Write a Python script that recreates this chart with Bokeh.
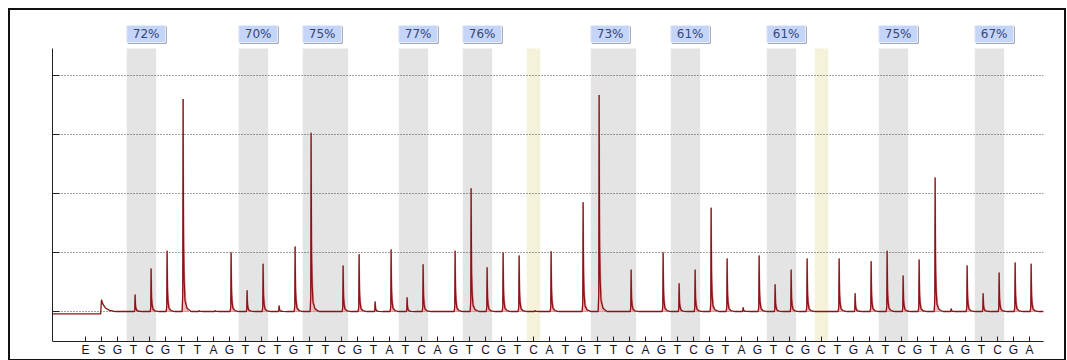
from bokeh.plotting import figure
from bokeh.models import FixedTicker, Range1d, ColumnDataSource
from bokeh.embed import file_html
from bokeh.resources import INLINE
from bokeh.core.properties import value

# ---- data ----
dispensation = list("ESGTCGTTAGTCTGTTCGTATCAGTCGTCATGTTCAGTCGTAGTCGCTGATCGTAGTCGA")
peak_heights = [0.0, 0.2, 0.0, 0.29, 0.73, 1.03, 3.6, 0.02, 0.02, 1.0,
                0.36, 0.81, 0.1, 1.1, 3.03, 0.0, 0.78, 0.97, 0.17, 1.05,
                0.24, 0.8, 0.0, 1.03, 2.09, 0.75, 1.0, 0.95, 0.02, 1.02,
                0.0, 1.85, 3.67, 0.0, 0.71, 0.0, 1.0, 0.48, 0.71, 1.76,
                0.9, 0.07, 0.95, 0.46, 0.71, 0.9, 0.0, 0.9, 0.31, 0.85,
                1.03, 0.61, 0.88, 2.27, 0.05, 0.78, 0.31, 0.66, 0.83, 0.81]
pre_baseline = -0.04
cpg_first = [3, 10, 14, 20, 24, 32, 37, 43, 50, 56]
cpg_last = [4, 11, 16, 21, 25, 34, 38, 44, 51, 57]
cpg_labels = ["72%", "70%", "75%", "77%", "76%", "73%", "61%", "61%", "75%", "67%"]
control_pos = [28, 46]
y_ticks = [0, 1, 2, 3, 4]

# ---- figure ----
X0, X1 = -2.06, 59.875
Y0, Y1 = -0.508, 4.966
YTOP = 4.458
DX, DY = 1 / 16.0, 1 / 59.0

p = figure(frame_width=991, frame_height=323,
           x_range=Range1d(X0, X1), y_range=Range1d(Y0, Y1),
           output_backend="svg", toolbar_location=None,
           min_border_left=42, min_border_right=21, min_border_top=8, min_border_bottom=15,
           background_fill_color="white", border_fill_color="white",
           outline_line_color=None,
           styles={"border": "2px solid #111111", "margin-left": "8px", "margin-top": "8px"})

# bands
hl = 0.42
gray_src = ColumnDataSource(dict(left=[a - hl for a in cpg_first],
                                 right=[b + hl for b in cpg_last],
                                 bottom=[Y0] * len(cpg_first), top=[YTOP] * len(cpg_first)))
p.quad(left="left", right="right", bottom="bottom", top="top", source=gray_src,
       fill_color="#e4e4e4", line_color=None, level="image")
yel_src = ColumnDataSource(dict(left=[c - hl for c in control_pos],
                                right=[c + hl for c in control_pos],
                                bottom=[Y0] * len(control_pos), top=[YTOP] * len(control_pos)))
p.quad(left="left", right="right", bottom="bottom", top="top", source=yel_src,
       fill_color="#f4f2da", line_color=None, level="image")

# labels
lab_left = [a - hl for a in cpg_first]
lab_w = 2.42
lab_top, lab_bot = 4.847, 4.559
p.quad(left=[l + DX for l in lab_left], right=[l + lab_w + DX for l in lab_left],
       bottom=[lab_bot - DY] * len(lab_left), top=[lab_top - DY] * len(lab_left),
       fill_color="#4c5466", line_color=None)
p.quad(left=lab_left, right=[l + lab_w for l in lab_left],
       bottom=[lab_bot] * len(lab_left), top=[lab_top] * len(lab_left),
       fill_color="#c4d5f7", line_color="#e8eefc", line_width=1)
p.text(x=[l + lab_w / 2 for l in lab_left], y=[(lab_top + lab_bot) / 2] * len(lab_left),
       text=cpg_labels, text_font=value("DejaVu Sans"), text_font_size="12px",
       text_color="#34457a", text_align="center", text_baseline="middle")

# pink peak bodies
pxs, pys = [], []
for i, h in enumerate(peak_heights):
    if h <= 0.03 or i < 2:
        continue
    c = i + 0.1
    pxs.append([c - 0.06, c - 0.01, c + 0.02, c + 0.05, c + 0.09, c + 0.15, c + 0.28])
    pys.append([0, 0.1 * h, h, 0.4 * h, 0.2 * h, 0.07 * h, 0])
p.patches(xs=pxs, ys=pys, fill_color="#f2bcbc", line_color="#de9a9a", line_width=1)

# dark trace
tx = [X0, 0.95]
ty = [pre_baseline, pre_baseline]
h1 = peak_heights[1]
tx += [1.0, 1.1, 1.25, 1.5, 1.9]
ty += [h1, 0.6 * h1, 0.3 * h1, 0.1 * h1, 0.0]
for i in range(2, len(peak_heights)):
    h = peak_heights[i]
    if h <= 0:
        continue
    c = i + 0.1
    tx += [c - 0.06, c - 0.02, c, c + 0.03, c + 0.07, c + 0.12, c + 0.25, c + 0.5]
    ty += [0.0, 0.08 * h, h, 0.3 * h, 0.14 * h, 0.05 * h, 0.015 * h, 0.0]
tx.append(X1)
ty.append(0.0)
p.line(tx, ty, line_color="#8a1414", line_width=1.3)

# axes
p.xgrid.visible = False
p.ygrid.ticker = FixedTicker(ticks=y_ticks)
p.ygrid.grid_line_color = "#444444"
p.ygrid.grid_line_dash = "1 2"
p.ygrid.grid_line_width = 1

p.yaxis.ticker = FixedTicker(ticks=y_ticks)
p.yaxis.bounds = (Y0, YTOP)
p.yaxis.major_tick_in = 7
p.yaxis.major_tick_out = 0
p.yaxis.minor_tick_line_color = None
p.yaxis.major_label_overrides = {t: "" for t in y_ticks}
p.yaxis.major_label_standoff = 0
p.yaxis.axis_line_color = "#222222"
p.yaxis.major_tick_line_color = "#222222"

p.xaxis.ticker = FixedTicker(ticks=list(range(len(dispensation))))
p.xaxis.major_label_overrides = {i: s for i, s in enumerate(dispensation)}
p.xaxis.major_tick_in = 5
p.xaxis.major_tick_out = 0
p.xaxis.minor_tick_line_color = None
p.xaxis.major_label_standoff = 1
p.xaxis.major_label_text_font = "Liberation Sans"
p.xaxis.major_label_text_font_size = "12px"
p.xaxis.major_label_text_color = "#111111"
p.xaxis.axis_line_color = "#222222"
p.xaxis.major_tick_line_color = "#222222"

open("out.html", "w").write(file_html(p, INLINE))
